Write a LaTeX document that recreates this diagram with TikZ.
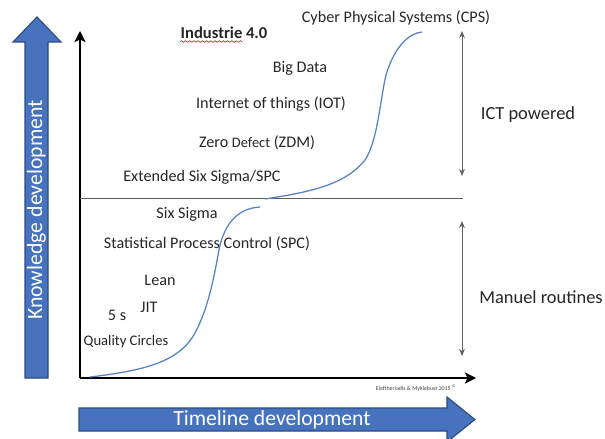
\documentclass[tikz,border=0pt]{standalone}
\usepackage{fontspec}
\setmainfont{Carlito}
\usetikzlibrary{arrows.meta,decorations.pathmorphing}
\definecolor{arrowblue}{RGB}{70,114,190}
\definecolor{arrowedge}{RGB}{45,75,130}
\definecolor{curveblue}{RGB}{85,130,195}
\definecolor{axisgray}{RGB}{95,95,95}
\tikzset{
  lbl/.style={inner sep=0pt, font=\fontsize{11.5}{13}\selectfont, text=black!85},
  small lbl/.style={inner sep=0pt, font=\fontsize{10.4}{12}\selectfont, text=black!85},
  side lbl/.style={inner sep=0pt, font=\fontsize{13.1}{15}\selectfont, text=black!85},
  bigarrow/.style={fill=arrowblue, draw=arrowedge, line width=0.8pt},
  curve/.style={draw=curveblue, line width=0.9pt},
  dbl/.style={draw=axisgray, line width=0.7pt, {Stealth[length=5pt,width=4pt]}-{Stealth[length=5pt,width=4pt]}},
  axis/.style={draw=black, line width=1.1pt, -{Stealth[length=8pt,width=8pt,inset=2pt]}}
}
\begin{document}
\begin{tikzpicture}[x=0.025cm, y=-0.025cm]
\useasboundingbox (0,0) rectangle (605,439);
% big blue arrows
\path[bigarrow] (25,378) -- (25,42) -- (13,42) -- (37,17) -- (61,42) -- (48,42) -- (48,378) -- cycle;
\node[rotate=90, inner sep=0pt, text=white, font=\fontsize{15.5}{17}\selectfont] (know) at (36.5,210) {Knowledge development};
\path[bigarrow] (79,408) -- (447,408) -- (447,397) -- (475,419.5) -- (447,442) -- (447,431) -- (79,431) -- cycle;
\node[inner sep=0pt, text=white, font=\fontsize{15.4}{17}\selectfont] (time) at (272,420) {Timeline development};
% axes
\coordinate (O) at (80,378);
\coordinate (ytop) at (80,31);
\coordinate (xend) at (476,378);
\draw[axis] (O) -- (ytop);
\draw[axis] (O) -- (xend);
\coordinate (midL) at (80,198.5);
\coordinate (midR) at (463,198.5);
\draw[axisgray, line width=0.9pt] (midL) -- (midR);
% double arrows
\coordinate (u1) at (462,31);
\coordinate (u2) at (462,176);
\coordinate (l1) at (462,221);
\coordinate (l2) at (462,356);
\draw[dbl] (u1) -- (u2);
\draw[dbl] (l1) -- (l2);
% curves
\draw[curve] (90,377) .. controls (150,370) and (180,360) .. (195,333)
  .. controls (210,305) and (215,270) .. (220,245)
  .. controls (228,215) and (245,208) .. (260,207);
\draw[curve] (265,199) .. controls (310,192) and (345,185) .. (365,160)
  .. controls (378,140) and (380,100) .. (386,75)
  .. controls (395,45) and (410,33) .. (422,32);
% labels
\node[lbl, font=\fontsize{11.8}{13}\selectfont\bfseries] (ind) at (224,33) {Industrie 4.0};
\draw[red!80!black, line width=0.4pt, decorate, decoration={snake, amplitude=0.6pt, segment length=3pt}] (180,41.5) -- (242,41.5);
\node[lbl] (cps) at (396,18) {Cyber Physical Systems (CPS)};
\node[lbl] (big) at (300,68) {Big Data};
\node[lbl] (iot) at (271,104) {Internet of things (IOT)};
\node[lbl] (zdm) at (257,143) {Zero {\fontsize{10.3}{12}\selectfont Defect} (ZDM)};
\node[lbl] (ess) at (202,177) {Extended Six Sigma/SPC};
\node[lbl] (six) at (187,214) {Six Sigma};
\node[lbl] (spc) at (207,244) {Statistical Process Control (SPC)};
\node[lbl] (lean) at (160,280) {Lean};
\node[lbl] (jit) at (149,307) {JIT};
\node[lbl] (fives) at (117,315) {5 s};
\node[small lbl] (qc) at (126,342) {Quality Circles};
\node[side lbl] (ict) at (528,115) {ICT powered};
\node[side lbl] (man) at (541,297) {Manuel routines};
\node[inner sep=0pt, font=\fontsize{4.2}{5}\selectfont, text=black!75] (cred) at (416,388) {Eleftheriadis \& Myklebust 2015 \textsuperscript{©}};
\end{tikzpicture}
\end{document}
